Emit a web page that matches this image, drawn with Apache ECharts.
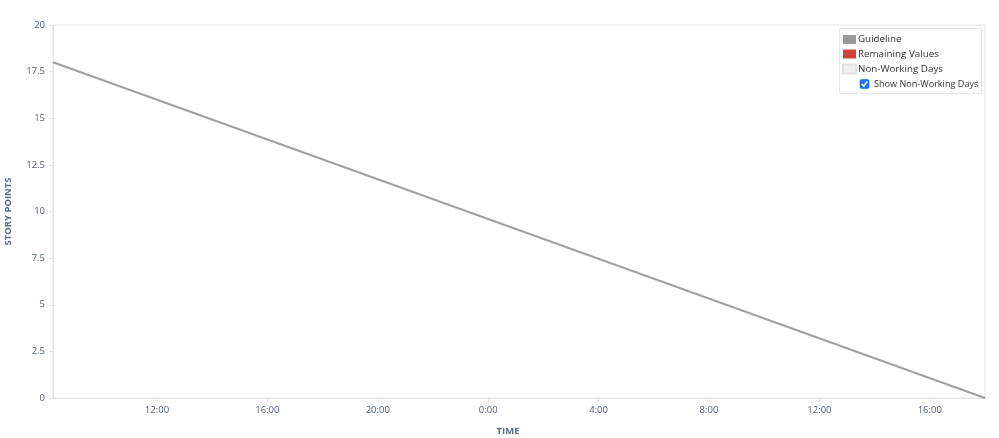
<!DOCTYPE html>
<html>
<head>
<meta charset="utf-8">
<script src="https://cdn.jsdelivr.net/npm/echarts@6/dist/echarts.min.js"></script>
<style>
html,body{margin:0;padding:0;background:#fff;}
#chart{width:999px;height:438px;}
</style>
</head>
<body>
<div id="chart"></div>
<script>
// ---- data ----
// times as [day, hour, minute]
const guidelineTimes = [[0, 8, 14], [1, 18, 0]];
const guidelineValues = [18, 0];
const remainingValues = [];
const tickTimes = [[0,12,0],[0,16,0],[0,20,0],[1,0,0],[1,4,0],[1,8,0],[1,12,0],[1,16,0]];
const yTicks = [0, 2.5, 5, 7.5, 10, 12.5, 15, 17.5, 20];
const legendNames = ['Guideline', 'Remaining Values', 'Non-Working Days'];
const checkboxLabel = 'Show Non-Working Days';

const hrs = a => a[0] * 24 + a[1] + a[2] / 60;
const fmt = v => { const h = Math.floor(v + 1e-6); const m = Math.round((v - h) * 60); return (h % 24) + ':' + String(m).padStart(2, '0'); };
const tickValues = tickTimes.map(hrs);
const FONT = '"Open Sans", "Noto Sans", sans-serif';

const chart = echarts.init(document.getElementById('chart'), null, {renderer: 'canvas'});
chart.setOption({
  animation: false,
  backgroundColor: '#fff',
  textStyle: {fontFamily: FONT},
  grid: {left: 53, right: 14, top: 25, bottom: 40, show: true, borderColor: '#e4e4e4', borderWidth: 1,
         containLabel: false, outerBoundsMode: 'none'},
  legend: {
    orient: 'vertical', left: 842, top: 34.5, padding: 0, itemGap: 4.5,
    itemWidth: 13, itemHeight: 9, icon: 'rect',
    data: legendNames,
    textStyle: {fontSize: 9.8, color: '#333', fontFamily: FONT, padding: [0, 0, 0, -3]},
    selectedMode: false
  },
  xAxis: {
    type: 'value',
    min: hrs(guidelineTimes[0]), max: hrs(guidelineTimes[1]),
    name: 'TIME', nameLocation: 'middle', nameGap: 28,
    nameTextStyle: {fontSize: 9.5, fontWeight: 'bold', color: '#5e6c84', padding: [0, 22, 0, 0]},
    axisLine: {show: true, lineStyle: {color: '#e4e4e4'}},
    axisTick: {show: true, customValues: tickValues, length: 4, lineStyle: {color: '#e4e4e4'}},
    axisLabel: {customValues: tickValues, formatter: fmt, fontSize: 9.5, color: '#505f79', margin: 7},
    splitLine: {show: false}
  },
  yAxis: {
    type: 'value', min: yTicks[0], max: yTicks[yTicks.length - 1], interval: 2.5,
    name: 'STORY POINTS', nameLocation: 'middle', nameGap: 40, nameRotate: 90,
    nameTextStyle: {fontSize: 9.5, fontWeight: 'bold', color: '#5e6c84'},
    axisLine: {show: true, lineStyle: {color: '#e4e4e4'}},
    axisTick: {show: true, length: 4, lineStyle: {color: '#e4e4e4'}},
    axisLabel: {fontSize: 9.5, color: '#505f79', margin: 8},
    splitLine: {show: false}
  },
  series: [
    {name: legendNames[0], type: 'line', showSymbol: false, symbol: 'none',
     data: guidelineTimes.map((t, i) => [hrs(t), guidelineValues[i]]),
     lineStyle: {color: '#a0a0a0', width: 2}, itemStyle: {color: '#999'}},
    {name: legendNames[1], type: 'line', symbol: 'none', data: remainingValues,
     lineStyle: {color: '#d04437'}, itemStyle: {color: '#d04437'}},
    {name: legendNames[2], type: 'line', symbol: 'none', data: [],
     lineStyle: {color: '#eeeeee'}, itemStyle: {color: '#efefef', borderColor: '#e2e2e2', borderWidth: 1}}
  ],
  graphic: [
    {type: 'rect', z: -1, shape: {x: 839.5, y: 28.5, width: 142, height: 65},
     style: {fill: '#fff', stroke: '#e6e6e6', lineWidth: 1}},
    {type: 'rect', shape: {x: 860, y: 79.5, width: 9, height: 9, r: 1.5},
     style: {fill: '#1a73e8', stroke: '#1a5fc4', lineWidth: 0.5}},
    {type: 'polyline', shape: {points: [[861.8, 84], [863.8, 86.1], [867.3, 81.5]]},
     style: {stroke: '#fff', lineWidth: 1.6, fill: null}},
    {type: 'text', left: 874, top: 79.5,
     style: {text: checkboxLabel, fontSize: 9.1, fill: '#333', fontFamily: FONT}}
  ]
});
</script>
</body>
</html>
